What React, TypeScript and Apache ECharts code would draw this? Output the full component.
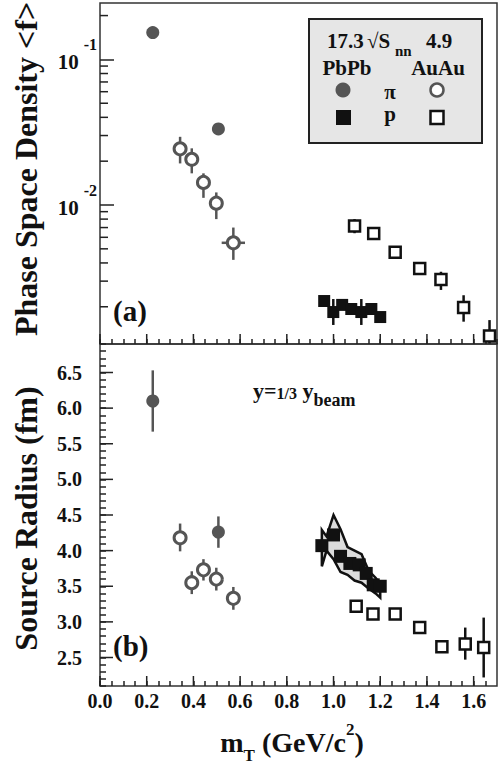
import React, { useEffect, useRef } from 'react';
import * as echarts from 'echarts';

const F = 'Liberation Serif';

// ---------- Panel (a): phase space density ----------
const pbpbPiTopX = [0.226, 0.507];
const pbpbPiTopY = [0.153, 0.0333];

const auauPiTopX = [0.343, 0.393, 0.443, 0.498, 0.571];
const auauPiTopY = [0.0243, 0.0206, 0.0143, 0.0103, 0.0055];
const auauPiTopLo = [0.0193, 0.0165, 0.0112, 0.008, 0.0042];
const auauPiTopHi = [0.0294, 0.0245, 0.0165, 0.0122, 0.007];
const auauPiTopXErr = [0, 0, 0, 0, 0.05];

const pbpbPTopX = [0.96, 0.999, 1.037, 1.076, 1.119, 1.162, 1.2];
const pbpbPTopY = [0.00219, 0.00184, 0.00206, 0.00193, 0.00184, 0.00193, 0.0017];
const pbpbPTopLo = [0.00219, 0.0015, 0.00206, 0.00193, 0.0015, 0.00193, 0.0017];
const pbpbPTopHi = [0.00219, 0.00226, 0.00206, 0.00193, 0.00226, 0.00193, 0.0017];

const auauPTopX = [1.09, 1.172, 1.264, 1.369, 1.46, 1.557, 1.668];
const auauPTopY = [0.00717, 0.00638, 0.00473, 0.00367, 0.00308, 0.00198, 0.00126];
const auauPTopLo = [0.0064, 0.00638, 0.00473, 0.00367, 0.00261, 0.00158, 0.00112];
const auauPTopHi = [0.008, 0.00638, 0.00473, 0.00367, 0.00348, 0.0024, 0.00162];

// ---------- Panel (b): source radius ----------
const pbpbPiBotX = [0.226, 0.507];
const pbpbPiBotY = [6.1, 4.26];
const pbpbPiBotLo = [5.67, 4.04];
const pbpbPiBotHi = [6.53, 4.48];

const auauPiBotX = [0.343, 0.393, 0.443, 0.498, 0.571];
const auauPiBotY = [4.18, 3.55, 3.73, 3.6, 3.33];
const auauPiBotLo = [3.99, 3.39, 3.58, 3.44, 3.17];
const auauPiBotHi = [4.38, 3.71, 3.88, 3.76, 3.49];

const pbpbPBotX = [0.95, 1.0, 1.03, 1.07, 1.11, 1.14, 1.17, 1.2];
const pbpbPBotY = [4.07, 4.22, 3.92, 3.82, 3.8, 3.68, 3.52, 3.5];

const bandX = [0.95, 0.97, 1.0, 1.03, 1.06, 1.09, 1.12, 1.15, 1.18, 1.2];
const bandUpper = [4.29, 4.2, 4.5, 4.3, 4.05, 4.0, 3.95, 3.72, 3.62, 3.53];
const bandLower = [3.78, 4.0, 3.88, 3.7, 3.66, 3.58, 3.55, 3.47, 3.4, 3.34];

const auauPBotX = [1.097, 1.169, 1.264, 1.369, 1.464, 1.564, 1.643];
const auauPBotY = [3.22, 3.11, 3.11, 2.92, 2.65, 2.69, 2.64];
const auauPBotLo = [3.22, 3.11, 3.11, 2.92, 2.6, 2.47, 2.22];
const auauPBotHi = [3.22, 3.11, 3.11, 2.92, 2.7, 2.92, 3.06];

// ---------- ticks ----------
const xMajorTicks = [0, 0.2, 0.4, 0.6, 0.8, 1.0, 1.2, 1.4, 1.6];
const logMinorTicks = [
  0.002, 0.003, 0.004, 0.005, 0.006, 0.007, 0.008, 0.009,
  0.02, 0.03, 0.04, 0.05, 0.06, 0.07, 0.08, 0.09, 0.2,
];
const radiusMajorTicks = [2.5, 3.0, 3.5, 4.0, 4.5, 5.0, 5.5, 6.0, 6.5];

const INK = '#111';
const GREY = '#555';

function errorSeries(gi: number, xs: number[], ys: number[], lo: number[], hi: number[], color: string, xerr?: number[]) {
  return {
    type: 'custom',
    xAxisIndex: gi,
    yAxisIndex: gi,
    z: 2,
    data: xs.map((x, i) => [x, ys[i], lo[i], hi[i], xerr ? xerr[i] : 0]),
    renderItem: (params: any, api: any) => {
      const x = api.value(0);
      const y = api.value(1);
      const a = api.coord([x, api.value(2)]);
      const b = api.coord([x, api.value(3)]);
      const children: any[] = [
        { type: 'line', shape: { x1: a[0], y1: a[1], x2: b[0], y2: b[1] }, style: { stroke: color, lineWidth: 2.5 } },
      ];
      const xe = api.value(4);
      if (xe > 0) {
        const l = api.coord([x - xe, y]);
        const r = api.coord([x + xe, y]);
        children.push({ type: 'line', shape: { x1: l[0], y1: l[1], x2: r[0], y2: r[1] }, style: { stroke: color, lineWidth: 2.5 } });
      }
      return { type: 'group', children };
    },
  };
}

function xTickSeries(gi: number, refY: number, len: number) {
  return {
    type: 'custom',
    xAxisIndex: gi,
    yAxisIndex: gi,
    z: 5,
    silent: true,
    data: xMajorTicks.map((v) => [v, refY]),
    renderItem: (params: any, api: any) => {
      const cs = params.coordSys;
      const px = api.coord([api.value(0), refY])[0];
      const yb = cs.y + cs.height;
      return { type: 'line', shape: { x1: px, y1: yb, x2: px, y2: yb - len }, style: { stroke: '#222', lineWidth: 1.5 } };
    },
  };
}

function yTickSeries(gi: number, vals: number[], len: number) {
  return {
    type: 'custom',
    xAxisIndex: gi,
    yAxisIndex: gi,
    z: 5,
    silent: true,
    data: vals.map((v) => [0.5, v]),
    renderItem: (params: any, api: any) => {
      const cs = params.coordSys;
      const py = api.coord([0.5, api.value(1)])[1];
      return { type: 'line', shape: { x1: cs.x, y1: py, x2: cs.x + len, y2: py }, style: { stroke: '#222', lineWidth: 1.5 } };
    },
  };
}

function scatter(gi: number, xs: number[], ys: number[], symbol: string, size: number, fill: string, border?: string, bw?: number) {
  return {
    type: 'scatter',
    xAxisIndex: gi,
    yAxisIndex: gi,
    z: 3,
    symbol,
    symbolSize: size,
    itemStyle: { color: fill, borderColor: border || fill, borderWidth: bw || 0, opacity: 1 },
    data: xs.map((x, i) => [x, ys[i]]),
  };
}

const xAxisBase = (gi: number, showLabels: boolean) => ({
  type: 'value',
  gridIndex: gi,
  min: 0,
  max: 1.7,
  interval: 0.05,
  axisLine: { show: false },
  splitLine: { show: false },
  axisTick: { show: true, inside: true, length: 5, lineStyle: { color: '#222', width: 1.5 } },
  axisLabel: {
    show: showLabels,
    margin: 5,
    fontSize: 20,
    fontWeight: 'bold',
    fontFamily: F,
    color: INK,
    showMaxLabel: false,
    formatter: (v: number) => {
      const q = v / 0.2;
      return Math.abs(q - Math.round(q)) < 1e-6 ? v.toFixed(1) : '';
    },
  },
});

function txt(x: number, y: number, text: string, size: number, align: string = 'left', extra: any = {}) {
  return {
    type: 'text', x, y, z: 11,
    style: { text, fontSize: size, fontWeight: 'bold', fontFamily: F, fill: INK, textAlign: align, textVerticalAlign: 'middle', ...extra },
  };
}

export default function App() {
  const ref = useRef<HTMLDivElement>(null);
  useEffect(() => {
    if (!ref.current) return;
    const chart = echarts.init(ref.current, undefined, { renderer: 'svg' });
    const option: any = {
      animation: false,
      backgroundColor: '#fff',
      grid: [
        { left: 100, top: 3, width: 397, height: 341, show: true, borderColor: '#333', borderWidth: 1.5, backgroundColor: 'transparent' },
        { left: 100, top: 344, width: 397, height: 342, show: true, borderColor: '#333', borderWidth: 1.5, backgroundColor: 'transparent' },
      ],
      xAxis: [xAxisBase(0, false), xAxisBase(1, true)],
      yAxis: [
        {
          type: 'log',
          gridIndex: 0,
          min: 0.00111,
          max: 0.244,
          axisLine: { show: false },
          splitLine: { show: false },
          axisTick: { show: true, inside: true, length: 14, lineStyle: { color: '#222', width: 1.5 } },
          axisLabel: {
            margin: 3,
            padding: [0, 0, 9, 0],
            showMinLabel: false,
            showMaxLabel: false,
            formatter: (v: number) => {
              const l = Math.log10(v);
              const r = Math.round(l);
              if (Math.abs(l - r) > 1e-6) return '';
              return `{b|10}{s|${r}}`;
            },
            rich: {
              b: { fontSize: 21, fontWeight: 'bold', fontFamily: F, color: INK, lineHeight: 22, verticalAlign: 'bottom' },
              s: { fontSize: 16, fontWeight: 'bold', fontFamily: F, color: INK, verticalAlign: 'top', padding: [0, 0, 20, 5] },
            },
          },
        },
        {
          type: 'value',
          gridIndex: 1,
          min: 2.1,
          max: 6.9,
          interval: 0.1,
          axisLine: { show: false },
          splitLine: { show: false },
          axisTick: { show: true, inside: true, length: 6, lineStyle: { color: '#222', width: 1.5 } },
          axisLabel: {
            margin: 18,
            fontSize: 20,
            fontWeight: 'bold',
            fontFamily: F,
            color: INK,
            formatter: (v: number) => {
              const q = v * 2;
              return Math.abs(q - Math.round(q)) < 1e-6 ? v.toFixed(1) : '';
            },
          },
        },
      ],
      series: [
        // ticks
        xTickSeries(0, 0.01, 10),
        xTickSeries(1, 4, 10),
        yTickSeries(0, logMinorTicks, 8),
        yTickSeries(1, radiusMajorTicks, 13),
        // panel (a)
        errorSeries(0, auauPiTopX, auauPiTopY, auauPiTopLo, auauPiTopHi, GREY, auauPiTopXErr),
        errorSeries(0, pbpbPTopX, pbpbPTopY, pbpbPTopLo, pbpbPTopHi, INK),
        errorSeries(0, auauPTopX, auauPTopY, auauPTopLo, auauPTopHi, INK),
        scatter(0, pbpbPiTopX, pbpbPiTopY, 'circle', 13, GREY),
        scatter(0, auauPiTopX, auauPiTopY, 'circle', 12, '#fff', GREY, 3),
        scatter(0, pbpbPTopX, pbpbPTopY, 'rect', 12, INK),
        scatter(0, auauPTopX, auauPTopY, 'rect', 11, '#fff', INK, 2.5),
        // panel (b)
        {
          type: 'custom',
          xAxisIndex: 1,
          yAxisIndex: 1,
          z: 1,
          data: bandX.map((x, i) => [x, bandUpper[i], bandLower[i]]),
          renderItem: (params: any, api: any) => {
            if (params.dataIndex !== 0) return null;
            const up = bandX.map((x, i) => api.coord([x, bandUpper[i]]));
            const lo = bandX.map((x, i) => api.coord([x, bandLower[i]])).reverse();
            return {
              type: 'polygon',
              shape: { points: up.concat(lo) },
              style: { fill: '#dcdcdc', stroke: INK, lineWidth: 2.5, lineJoin: 'miter' },
            };
          },
        },
        errorSeries(1, pbpbPiBotX, pbpbPiBotY, pbpbPiBotLo, pbpbPiBotHi, GREY),
        errorSeries(1, auauPiBotX, auauPiBotY, auauPiBotLo, auauPiBotHi, GREY),
        errorSeries(1, auauPBotX, auauPBotY, auauPBotLo, auauPBotHi, INK),
        scatter(1, pbpbPiBotX, pbpbPiBotY, 'circle', 13, GREY),
        scatter(1, auauPiBotX, auauPiBotY, 'circle', 12, '#fff', GREY, 3),
        scatter(1, pbpbPBotX, pbpbPBotY, 'rect', 13, INK),
        scatter(1, auauPBotX, auauPBotY, 'rect', 11, '#fff', INK, 2.5),
      ],
      graphic: [
        // axis titles
        {
          type: 'text', x: 25.5, y: 169, rotation: Math.PI / 2, z: 10,
          style: { text: 'Phase Space Density <f>', fontSize: 32, fontWeight: 'bold', fontFamily: F, fill: INK, textAlign: 'center', textVerticalAlign: 'middle' },
        },
        {
          type: 'text', x: 25.5, y: 518.5, rotation: Math.PI / 2, z: 10,
          style: { text: 'Source Radius (fm)', fontSize: 32, fontWeight: 'bold', fontFamily: F, fill: INK, textAlign: 'center', textVerticalAlign: 'middle' },
        },
        {
          type: 'text', x: 292, y: 742, z: 10,
          style: {
            text: '{b|m}{sub|T}{b| (GeV/c}{sup|2}{b|)}',
            textAlign: 'center', textVerticalAlign: 'middle', fill: INK,
            rich: {
              b: { fontSize: 28, fontWeight: 'bold', fontFamily: F, fill: INK, verticalAlign: 'middle' },
              sub: { fontSize: 17, fontWeight: 'bold', fontFamily: F, fill: INK, verticalAlign: 'top', padding: [26, 0, 0, 0] },
              sup: { fontSize: 17, fontWeight: 'bold', fontFamily: F, fill: INK, verticalAlign: 'top', padding: [0, 0, 0, 0] },
            },
          },
        },
        // panel labels
        txt(113, 311, '(a)', 29),
        txt(113, 646, '(b)', 29),
        // rapidity note
        {
          type: 'text', x: 253, y: 390, z: 10,
          style: {
            text: '{a|y=}{f|1/3}{a| y}{s|beam}',
            textAlign: 'left', textVerticalAlign: 'middle', fill: INK,
            rich: {
              a: { fontSize: 22, fontWeight: 'bold', fontFamily: F, fill: INK, lineHeight: 22, verticalAlign: 'top' },
              f: { fontSize: 16, fontWeight: 'bold', fontFamily: F, fill: INK, lineHeight: 16, verticalAlign: 'top', padding: [6, 0, 0, 0] },
              s: { fontSize: 18, fontWeight: 'bold', fontFamily: F, fill: INK, lineHeight: 18, verticalAlign: 'top', padding: [12, 0, 0, 0] },
            },
          },
        },
        // legend box
        { type: 'rect', z: 10, shape: { x: 309, y: 19, width: 173, height: 124 }, style: { fill: '#e6e6e6', stroke: '#222', lineWidth: 2 } },
        txt(327, 41, '17.3', 21),
        txt(367, 41, '√S', 21),
        txt(395, 51, 'nn', 15),
        txt(426, 41, '4.9', 21),
        txt(347, 67.5, 'PbPb', 21, 'center'),
        txt(438, 67.5, 'AuAu', 21, 'center'),
        { type: 'circle', z: 11, shape: { cx: 343, cy: 90, r: 7.5 }, style: { fill: GREY } },
        txt(390, 91.5, 'π', 21, 'center', { lineHeight: 14 }),
        { type: 'circle', z: 11, shape: { cx: 437, cy: 90, r: 6.5 }, style: { fill: '#fff', stroke: GREY, lineWidth: 2.5 } },
        { type: 'rect', z: 11, shape: { x: 336, y: 110, width: 15, height: 15 }, style: { fill: INK } },
        txt(390, 114, 'p', 21, 'center', { lineHeight: 14 }),
        { type: 'rect', z: 11, shape: { x: 430.5, y: 111, width: 13, height: 13 }, style: { fill: '#fff', stroke: INK, lineWidth: 2.5 } },
      ],
    };
    chart.setOption(option);
    return () => chart.dispose();
  }, []);
  return <div ref={ref} style={{ position: 'fixed', left: 0, top: 0, width: 500, height: 766 }} />;
}
